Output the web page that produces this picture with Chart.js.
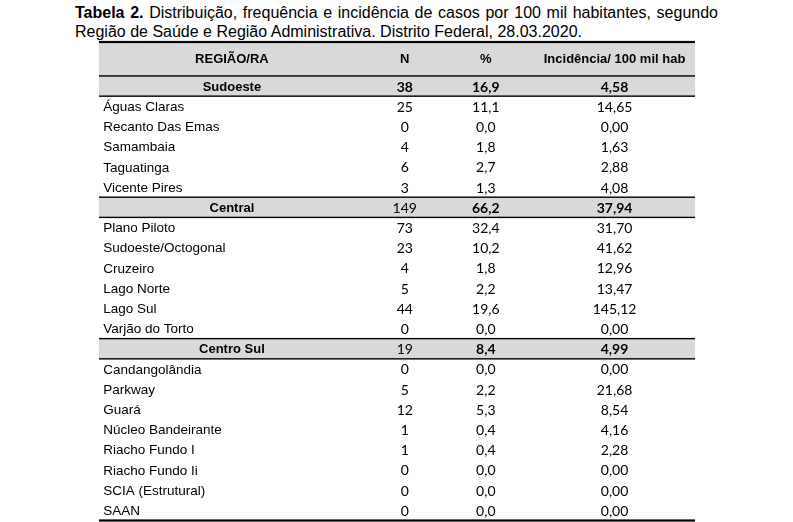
<!DOCTYPE html>
<html>
<head>
<meta charset="utf-8">
<script src="https://cdn.jsdelivr.net/npm/chart.js@4/dist/chart.umd.min.js"></script>
<style>
  body { margin: 0; background: #fff; }
  #wrap { position: relative; width: 793px; height: 522px; }
  #caption { position: absolute; left: 75px; top: 3px; width: 643px;
    font-family: 'Liberation Sans', Arial, sans-serif; font-size: 16px; line-height: 19px; color: #000; }
  #caption .l1 { text-align: justify; text-align-last: justify; }
  #chartBox { position: absolute; left: 0; top: 0; width: 793px; height: 522px; }
</style>
</head>
<body>
<div id="wrap">
  <div id="caption">
    <div class="l1"><b>Tabela 2.</b> Distribuição, frequência e incidência de casos por 100 mil habitantes, segundo</div>
    <div>Região de Saúde e Região Administrativa. Distrito Federal, 28.03.2020.</div>
  </div>
  <div id="chartBox"><canvas id="myChart"></canvas></div>
</div>
<script>
const columnHeaders = ['REGIÃO/RA', 'N', '%', 'Incidência/ 100 mil hab'];
const groupRows = ['Sudoeste', 'Central', 'Centro Sul'];

const rowLabels = [
  'Sudoeste', 'Águas Claras', 'Recanto Das Emas', 'Samambaia', 'Taguatinga', 'Vicente Pires',
  'Central', 'Plano Piloto', 'Sudoeste/Octogonal', 'Cruzeiro', 'Lago Norte', 'Lago Sul', 'Varjão do Torto',
  'Centro Sul', 'Candangolândia', 'Parkway', 'Guará', 'Núcleo Bandeirante', 'Riacho Fundo I',
  'Riacho Fundo Ii', 'SCIA (Estrutural)', 'SAAN'
];
const nValues = [38, 25, 0, 4, 6, 3, 149, 73, 23, 4, 5, 44, 0, 19, 0, 5, 12, 1, 1, 0, 0, 0];
const pctValues = [16.9, 11.1, 0.0, 1.8, 2.7, 1.3, 66.2, 32.4, 10.2, 1.8, 2.2, 19.6, 0.0,
  8.4, 0.0, 2.2, 5.3, 0.4, 0.4, 0.0, 0.0, 0.0];
const incValues = [4.58, 14.65, 0.00, 1.63, 2.88, 4.08, 37.94, 31.70, 41.62, 12.96, 13.47, 145.12, 0.00,
  4.99, 0.00, 21.68, 8.54, 4.16, 2.28, 0.00, 0.00, 0.00];

// which group-row numbers are printed in bold (N of Central and Centro Sul are not)
const boldN = ['Sudoeste'];

const headerUnits = 1.68;
const totalUnits = headerUnits + rowLabels.length;
const colX = { nameLeft: 0.007, nameCenter: 0.223, n: 0.513, pct: 0.649, inc: 0.865 };

const fmt = (v, d) => v.toFixed(d).replace('.', ',');

const tablePlugin = {
  id: 'tableDraw',
  afterDraw(chart) {
    const { ctx, chartArea, scales: { x, y } } = chart;
    const L = chartArea.left, R = chartArea.right;
    const sans = "'Liberation Sans', Arial, sans-serif";
    const nums = "Lato, Carlito, Calibri, sans-serif";
    ctx.save();

    // gray bands
    ctx.fillStyle = '#d9d9d9';
    ctx.fillRect(L, y.getPixelForValue(0), R - L, y.getPixelForValue(headerUnits) - y.getPixelForValue(0));
    rowLabels.forEach((lab, i) => {
      if (!groupRows.includes(lab)) return;
      const t = y.getPixelForValue(headerUnits + i), b = y.getPixelForValue(headerUnits + i + 1);
      ctx.fillRect(L, t, R - L, b - t);
    });

    // rules
    const hline = (v, w) => {
      const py = y.getPixelForValue(v);
      ctx.fillStyle = '#000';
      ctx.fillRect(L, py - w / 2, R - L, w);
    };
    hline(0, 2.2);
    hline(headerUnits, 1.4);
    rowLabels.forEach((lab, i) => {
      if (!groupRows.includes(lab)) return;
      if (i > 0) hline(headerUnits + i, 1.4);
      hline(headerUnits + i + 1, 1.4);
    });
    hline(totalUnits, 2.2);

    // header text
    ctx.fillStyle = '#000';
    ctx.textBaseline = 'middle';
    ctx.textAlign = 'center';
    ctx.font = 'bold 13px ' + sans;
    const hy = y.getPixelForValue(headerUnits / 2);
    [colX.nameCenter, colX.n, colX.pct, colX.inc].forEach((c, k) => {
      ctx.fillText(columnHeaders[k], x.getPixelForValue(c), hy);
    });

    // body rows
    rowLabels.forEach((lab, i) => {
      const py = y.getPixelForValue(headerUnits + i + 0.5) + 1;
      const isGroup = groupRows.includes(lab);
      if (isGroup) {
        ctx.textAlign = 'center';
        ctx.font = 'bold 13px ' + sans;
        ctx.fillText(lab, x.getPixelForValue(colX.nameCenter), py);
      } else {
        ctx.textAlign = 'left';
        ctx.font = '13.5px ' + sans;
        ctx.fillText(lab, x.getPixelForValue(colX.nameLeft), py);
      }
      ctx.textAlign = 'center';
      ctx.font = ((isGroup && boldN.includes(lab)) ? 'bold ' : '') + '14px ' + nums;
      ctx.fillText(String(nValues[i]), x.getPixelForValue(colX.n), py);
      ctx.font = (isGroup ? 'bold ' : '') + '14px ' + nums;
      ctx.fillText(fmt(pctValues[i], 1), x.getPixelForValue(colX.pct), py);
      ctx.fillText(fmt(incValues[i], 2), x.getPixelForValue(colX.inc), py);
    });
    ctx.restore();
  }
};

new Chart(document.getElementById('myChart').getContext('2d'), {
  type: 'scatter',
  data: { datasets: [{ data: [], pointRadius: 0 }] },
  options: {
    responsive: true,
    maintainAspectRatio: false,
    animation: false,
    events: [],
    layout: { padding: { left: 99, right: 98, top: 42, bottom: 1.5 } },
    plugins: { legend: { display: false }, tooltip: { enabled: false } },
    scales: {
      x: { type: 'linear', min: 0, max: 1, display: false },
      y: { type: 'linear', min: 0, max: totalUnits, reverse: true, display: false },
    },
  },
  plugins: [tablePlugin],
});
</script>
</body>
</html>
